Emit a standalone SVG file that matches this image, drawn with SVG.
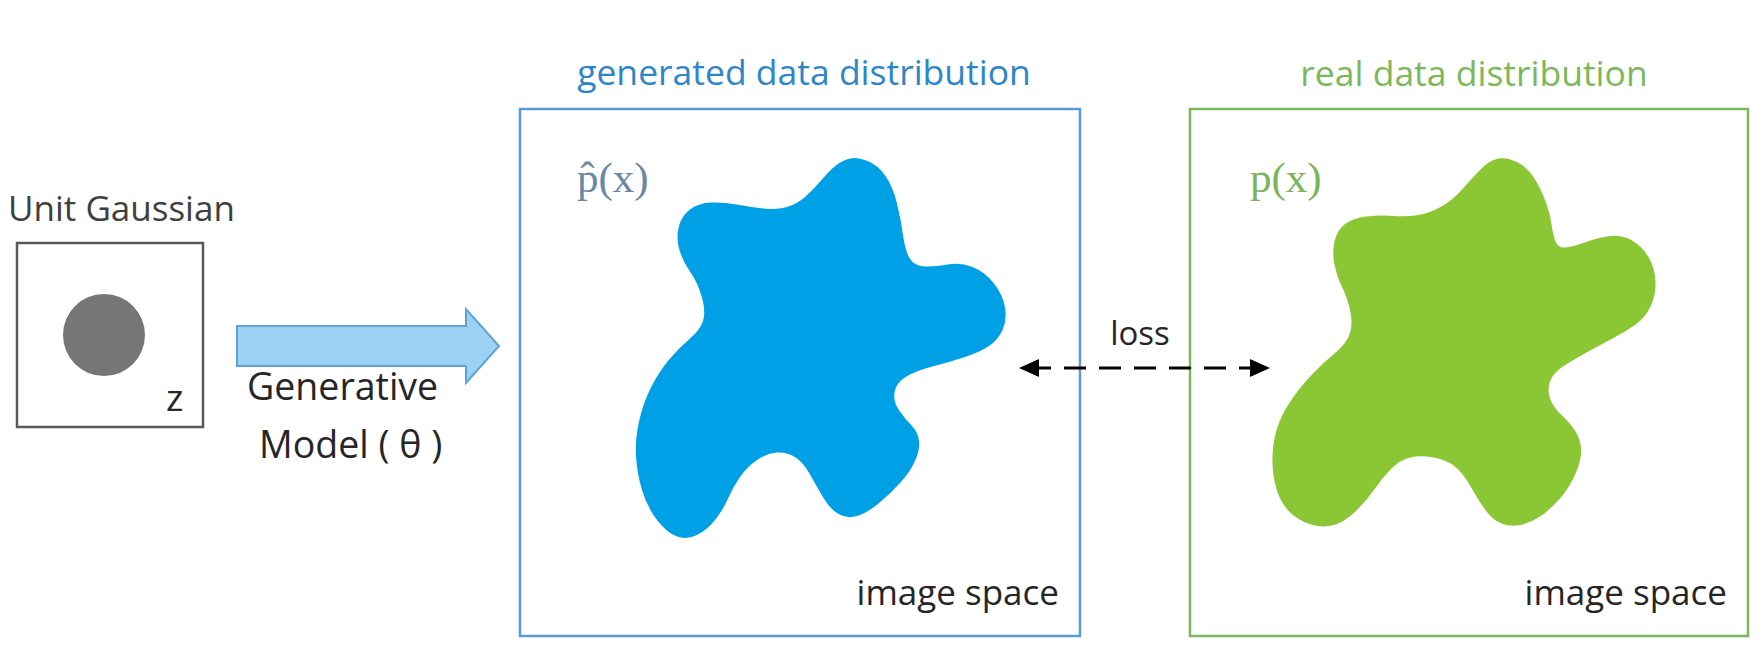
<svg xmlns="http://www.w3.org/2000/svg" width="1762" height="650" viewBox="0 0 1762 650">
<defs>
<style>
.sans{font-family:"Open Sans","Noto Sans","Liberation Sans",sans-serif;}
.serif{font-family:"Liberation Serif","DejaVu Serif",serif;}
.dark{fill:#262626;}
.frame{fill:#ffffff;stroke-width:2.5;}
</style>
<marker id="head" viewBox="0 0 20 20" refX="20" refY="10" markerWidth="20" markerHeight="20" markerUnits="userSpaceOnUse" orient="auto-start-reverse">
<path d="M0,1 L20,10 L0,19 Z" fill="#000000"/>
</marker>
</defs>
<rect width="1762" height="650" fill="#ffffff"/>

<g id="unit-gaussian">
<text class="sans" x="8" y="221" font-size="35" fill="#404040">Unit Gaussian</text>
<rect x="17" y="243" width="186" height="184" fill="#ffffff" stroke="#5a5a5a" stroke-width="2.5"/>
<circle cx="104" cy="335" r="41" fill="#767676"/>
<text class="sans dark" x="166" y="411" font-size="37">z</text>
</g>

<g id="generative-model-label">
<text class="sans dark" x="247" y="400" font-size="37.5">Generative</text>
<text class="sans dark" x="259" y="458" font-size="37.5">Model ( θ )</text>
</g>

<g id="generated-distribution">
<text class="sans" x="804" y="85" font-size="35.5" text-anchor="middle" fill="#2e86c8">generated data distribution</text>
<rect class="frame" x="520" y="109" width="560" height="527" stroke="#5b9bd5"/>
<text class="serif" x="577" y="192" font-size="43" fill="#6a87a8">p̂(x)</text>
<path fill="#00a0e6" d="M850,158.5 Q857,157 867.5,161 Q878,165 885.5,176 Q893,187 897,203.5 Q901,220 903,235 Q905,250 909.5,258 Q914,266 924.5,266.5 Q935,267 947.5,264.5 Q960,262 972.5,267 Q985,272 994,283.5 Q1003,295 1005,307.5 Q1007,320 1002.5,330 Q998,340 989,346 Q980,352 965,357 Q950,362 932.5,366.5 Q915,371 905.5,377 Q896,383 894.5,392.5 Q893,402 899.5,411 Q906,420 912,426 Q918,432 919,441 Q920,450 915,461 Q910,472 900,483 Q890,494 878.5,503.5 Q867,513 857,516 Q847,519 838.5,514 Q830,509 823.5,498 Q817,487 810,474.5 Q803,462 795,457 Q787,452 777,452.5 Q767,453 757,460 Q747,467 740,477 Q733,487 728,498.5 Q723,510 715,520 Q707,530 697,535 Q687,540 677,536.5 Q667,533 657,520 Q647,507 642,490 Q637,473 636,456.5 Q635,440 639,421.5 Q643,403 651.5,386.5 Q660,370 670,358.5 Q680,347 690,338.5 Q700,330 703,321 Q706,312 702,297.5 Q698,283 690,271.5 Q682,260 679,248.5 Q676,237 679,226 Q682,215 690.5,209 Q699,203 711,202.5 Q723,202 736.5,204.5 Q750,207 763.5,208.5 Q777,210 787,207 Q797,204 805,197 Q813,190 821.5,180 Q830,170 836.5,165 Q843,160 850,158.5 Z"/>
<text class="sans dark" x="1059" y="605" font-size="35" text-anchor="end">image space</text>
</g>

<g id="real-distribution">
<text class="sans" x="1474" y="86" font-size="35.5" text-anchor="middle" fill="#7ab85a">real data distribution</text>
<rect class="frame" x="1190" y="109" width="558" height="527" stroke="#7cb85a"/>
<text class="serif" x="1250" y="192" font-size="43" fill="#7ab55c">p(x)</text>
<path fill="#8bc634" d="M1498.5,158.5 Q1507,157 1517,162 Q1527,167 1533.5,177 Q1540,187 1545,200 Q1550,213 1551.5,224 Q1553,235 1555.5,241.5 Q1558,248 1565,247.5 Q1572,247 1586,242 Q1600,237 1611,236 Q1622,235 1632,240.5 Q1642,246 1648.5,257 Q1655,268 1655.5,281.5 Q1656,295 1650.5,306.5 Q1645,318 1635,325 Q1625,332 1612.5,338.5 Q1600,345 1586.5,352.5 Q1573,360 1563,366.5 Q1553,373 1550,381.5 Q1547,390 1550,398.5 Q1553,407 1561.5,415 Q1570,423 1575,430.5 Q1580,438 1581,448 Q1582,458 1576,472.5 Q1570,487 1560,498.5 Q1550,510 1540,516.5 Q1530,523 1520,525 Q1510,527 1501.5,523.5 Q1493,520 1486.5,511.5 Q1480,503 1471.5,488 Q1463,473 1455,466.5 Q1447,460 1433.5,457.5 Q1420,455 1410,457.5 Q1400,460 1391.5,468.5 Q1383,477 1375,488.5 Q1367,500 1357,510 Q1347,520 1337,524 Q1327,528 1315,525.5 Q1303,523 1293,515 Q1283,507 1278,493.5 Q1273,480 1272.5,463.5 Q1272,447 1276,432 Q1280,417 1290,402 Q1300,387 1311.5,375 Q1323,363 1335,353 Q1347,343 1350,333 Q1353,323 1350,310 Q1347,297 1342,287 Q1337,277 1334.5,265 Q1332,253 1334.5,241.5 Q1337,230 1345,224 Q1353,218 1366.5,216.5 Q1380,215 1393.5,216 Q1407,217 1418.5,215 Q1430,213 1441.5,206.5 Q1453,200 1463,188.5 Q1473,177 1481.5,168.5 Q1490,160 1498.5,158.5 Z"/>
<text class="sans dark" x="1727" y="605" font-size="35" text-anchor="end">image space</text>
</g>

<g id="loss-label">
<text class="sans dark" x="1140" y="345" font-size="33" text-anchor="middle">loss</text>
</g>

<g id="connectors">
<path d="M237,326 L466,326 L466,309 L499,346 L466,383 L466,366 L237,366 Z" fill="#9dd2f4" stroke="#5ba3d9" stroke-width="2"/>
<line x1="1019" y1="368" x2="1270" y2="368" stroke="#000000" stroke-width="3" stroke-dasharray="22 13" stroke-dashoffset="-10" marker-start="url(#head)" marker-end="url(#head)"/>
</g>
</svg>
